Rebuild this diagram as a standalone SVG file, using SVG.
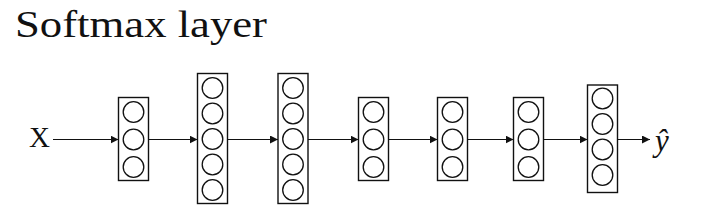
<svg xmlns="http://www.w3.org/2000/svg" width="708" height="208" viewBox="0 0 708 208">
  <style>
    .box { fill: #ffffff; stroke: #111111; stroke-width: 1.4; }
    .unit { fill: #ffffff; stroke: #111111; stroke-width: 1.3; }
    .edge { fill: none; stroke: #111111; stroke-width: 1.2; }
    .lbl { font-family: "Liberation Serif", "DejaVu Serif", serif; fill: #111111; }
  </style>
  <defs>
    <marker id="arrow" viewBox="0 0 10 10" refX="10" refY="5" markerWidth="8" markerHeight="8" markerUnits="userSpaceOnUse" orient="auto">
      <path d="M0,0 L10,5 L0,10 Z" fill="#111111"/>
    </marker>
  </defs>
  <rect width="708" height="208" fill="#ffffff"/>

  <text id="title" class="lbl" x="15" y="37" font-size="37" textLength="252" lengthAdjust="spacingAndGlyphs">Softmax layer</text>

  <g id="input">
    <text class="lbl" x="29" y="147" font-size="29">X</text>
  </g>

  <g id="layer1">
    <rect class="box" x="118.5" y="97.5" width="30" height="83"/>
    <circle class="unit" cx="133.5" cy="112" r="10.3"/>
    <circle class="unit" cx="133.5" cy="139.5" r="10.3"/>
    <circle class="unit" cx="133.5" cy="167" r="10.3"/>
  </g>

  <g id="layer2">
    <rect class="box" x="197.5" y="73.5" width="30" height="130"/>
    <circle class="unit" cx="212.5" cy="88" r="10.3"/>
    <circle class="unit" cx="212.5" cy="113.5" r="10.3"/>
    <circle class="unit" cx="212.5" cy="139" r="10.3"/>
    <circle class="unit" cx="212.5" cy="164.5" r="10.3"/>
    <circle class="unit" cx="212.5" cy="190" r="10.3"/>
  </g>

  <g id="layer3">
    <rect class="box" x="278" y="73.5" width="30" height="130"/>
    <circle class="unit" cx="293" cy="88" r="10.3"/>
    <circle class="unit" cx="293" cy="113.5" r="10.3"/>
    <circle class="unit" cx="293" cy="139" r="10.3"/>
    <circle class="unit" cx="293" cy="164.5" r="10.3"/>
    <circle class="unit" cx="293" cy="190" r="10.3"/>
  </g>

  <g id="layer4">
    <rect class="box" x="358.5" y="97.5" width="30" height="83"/>
    <circle class="unit" cx="373.5" cy="112" r="10.3"/>
    <circle class="unit" cx="373.5" cy="139.5" r="10.3"/>
    <circle class="unit" cx="373.5" cy="167" r="10.3"/>
  </g>

  <g id="layer5">
    <rect class="box" x="437.5" y="97.5" width="30" height="83"/>
    <circle class="unit" cx="452.5" cy="112" r="10.3"/>
    <circle class="unit" cx="452.5" cy="139.5" r="10.3"/>
    <circle class="unit" cx="452.5" cy="167" r="10.3"/>
  </g>

  <g id="layer6">
    <rect class="box" x="513.5" y="97.5" width="30" height="83"/>
    <circle class="unit" cx="528.5" cy="112" r="10.3"/>
    <circle class="unit" cx="528.5" cy="139.5" r="10.3"/>
    <circle class="unit" cx="528.5" cy="167" r="10.3"/>
  </g>

  <g id="layer7">
    <rect class="box" x="587.5" y="85" width="30" height="107.5"/>
    <circle class="unit" cx="602.5" cy="98.5" r="10.3"/>
    <circle class="unit" cx="602.5" cy="124" r="10.3"/>
    <circle class="unit" cx="602.5" cy="149.5" r="10.3"/>
    <circle class="unit" cx="602.5" cy="175" r="10.3"/>
  </g>

  <g id="output">
    <text class="lbl" x="655" y="151" font-size="31" font-style="italic">ŷ</text>
  </g>

  <g id="connectors">
    <line class="edge" x1="53" y1="139.5" x2="118.5" y2="139.5" marker-end="url(#arrow)"/>
    <line class="edge" x1="148.5" y1="139.5" x2="197.5" y2="139.5" marker-end="url(#arrow)"/>
    <line class="edge" x1="227.5" y1="139.5" x2="278" y2="139.5" marker-end="url(#arrow)"/>
    <line class="edge" x1="308" y1="139.5" x2="358.5" y2="139.5" marker-end="url(#arrow)"/>
    <line class="edge" x1="388.5" y1="139.5" x2="437.5" y2="139.5" marker-end="url(#arrow)"/>
    <line class="edge" x1="467.5" y1="139.5" x2="513.5" y2="139.5" marker-end="url(#arrow)"/>
    <line class="edge" x1="543.5" y1="139.5" x2="587.5" y2="139.5" marker-end="url(#arrow)"/>
    <line class="edge" x1="617.5" y1="139.5" x2="650" y2="139.5" marker-end="url(#arrow)"/>
  </g>
</svg>
